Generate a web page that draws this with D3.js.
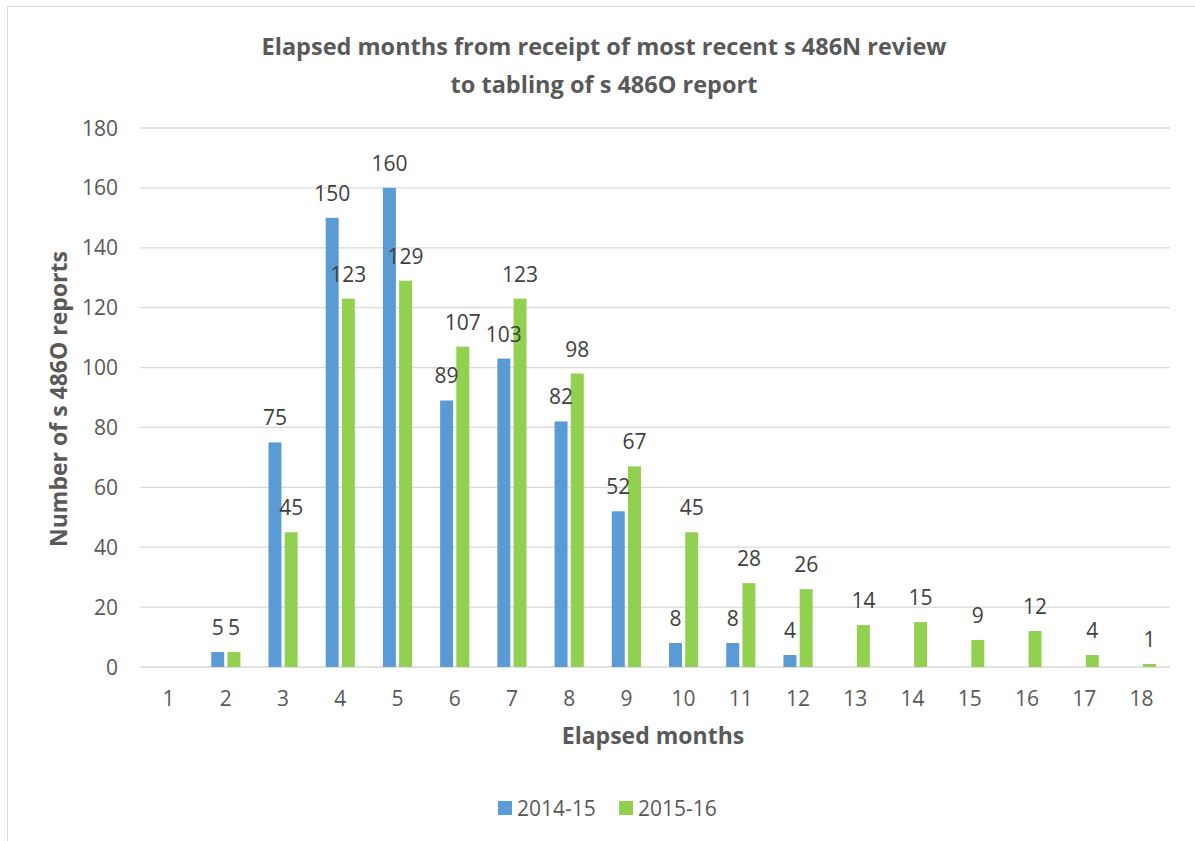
<!DOCTYPE html>
<html>
<head>
<meta charset="utf-8">
<script src="https://cdn.jsdelivr.net/npm/d3@7"></script>
<style>
  html, body { margin: 0; padding: 0; background: #fff; }
  svg text { font-family: "Open Sans", sans-serif; }
</style>
</head>
<body>
<div id="chart"></div>
<script>
(function() {

  const months = ['1', '2', '3', '4', '5', '6', '7', '8', '9', '10', '11', '12', '13', '14', '15', '16', '17', '18'];
  const seriesNames = ['2014-15', '2015-16'];
  const values1415 = [null, 5, 75, 150, 160, 89, 103, 82, 52, 8, 8, 4, null, null, null, null, null, null];
  const values1516 = [null, 5, 45, 123, 129, 107, 123, 98, 67, 45, 28, 26, 14, 15, 9, 12, 4, 1];
  const yTicks = [0, 20, 40, 60, 80, 100, 120, 140, 160, 180];
  const colors = ['#5b9bd5', '#92d050'];

  const width = 1195, height = 841;
  let svg = d3.select('#chart')
    .append('svg')
    .attr('width', width)
    .attr('height', height);

  // chart frame
  svg.append('rect')
    .attr('x', 7.5).attr('y', 6.5)
    .attr('width', 1195).attr('height', 841)
    .attr('fill', 'none')
    .attr('stroke', '#d9d9d9');

  let x = d3.scaleBand().domain(months).range([140, 1170]);
  let bw = x.bandwidth();
  let xs = d3.scaleBand().domain(seriesNames)
    .range([bw * 0.245, bw * 0.755])
    .paddingInner(0.2);
  let y = d3.scaleLinear().domain([0, 180]).range([667, 128]);

  // gridlines
  svg.append('g').selectAll('line')
    .data(yTicks)
    .enter().append('line')
    .attr('x1', 140).attr('x2', 1170)
    .attr('y1', d => y(d)).attr('y2', d => y(d))
    .attr('stroke', '#d9d9d9')
    .attr('stroke-width', 1.3);

  // y tick labels
  svg.append('g').selectAll('text')
    .data(yTicks)
    .enter().append('text')
    .attr('x', 118)
    .attr('y', d => y(d))
    .attr('dy', '0.36em')
    .attr('text-anchor', 'end')
    .attr('font-size', 21)
    .attr('fill', '#595959')
    .text(d => d);

  // x tick labels
  svg.append('g').selectAll('text')
    .data(months)
    .enter().append('text')
    .attr('x', d => x(d) + bw / 2)
    .attr('y', 706)
    .attr('text-anchor', 'middle')
    .attr('font-size', 21)
    .attr('fill', '#595959')
    .text(d => d);

  let series = [values1415, values1516].map((vals, i) => ({
    name: seriesNames[i],
    color: colors[i],
    points: vals.map((v, j) => ({ month: months[j], value: v })).filter(p => p.value !== null)
  }));

  // bars first, labels on top
  series.forEach(s => {
    svg.append('g').selectAll('rect')
      .data(s.points)
      .enter().append('rect')
      .attr('x', d => x(d.month) + xs(s.name))
      .attr('y', d => y(d.value))
      .attr('width', xs.bandwidth())
      .attr('height', d => y(0) - y(d.value))
      .attr('fill', s.color);
  });
  series.forEach(s => {
    svg.append('g').selectAll('text')
      .data(s.points)
      .enter().append('text')
      .attr('x', d => x(d.month) + xs(s.name) + xs.bandwidth() / 2)
      .attr('y', d => y(d.value) - 17)
      .attr('text-anchor', 'middle')
      .attr('font-size', 21)
      .attr('fill', '#404040')
      .text(d => d.value);
  });

  // title
  let title = svg.append('text')
    .attr('text-anchor', 'middle')
    .attr('font-size', 23.5)
    .attr('font-weight', 'bold')
    .attr('fill', '#595959');
  title.append('tspan').attr('x', 604).attr('y', 55)
    .text('Elapsed months from receipt of most recent s 486N review');
  title.append('tspan').attr('x', 604).attr('y', 93)
    .text('to tabling of s 486O report');

  // axis titles
  svg.append('text')
    .attr('x', 653).attr('y', 744)
    .attr('text-anchor', 'middle')
    .attr('font-size', 23)
    .attr('font-weight', 'bold')
    .attr('fill', '#595959')
    .text('Elapsed months');

  svg.append('text')
    .attr('transform', 'translate(67,399) rotate(-90)')
    .attr('text-anchor', 'middle')
    .attr('font-size', 23)
    .attr('font-weight', 'bold')
    .attr('fill', '#595959')
    .text('Number of s 486O reports');

  // legend
  let legend = svg.append('g').selectAll('g')
    .data(series)
    .enter().append('g')
    .attr('transform', (d, i) => `translate(${498 + i * 121},801)`);
  legend.append('rect')
    .attr('width', 14).attr('height', 14)
    .attr('fill', d => d.color);
  legend.append('text')
    .attr('x', 19).attr('y', 14.5)
    .attr('font-size', 21)
    .attr('fill', '#595959')
    .text(d => d.name);

})();
</script>
</body>
</html>
